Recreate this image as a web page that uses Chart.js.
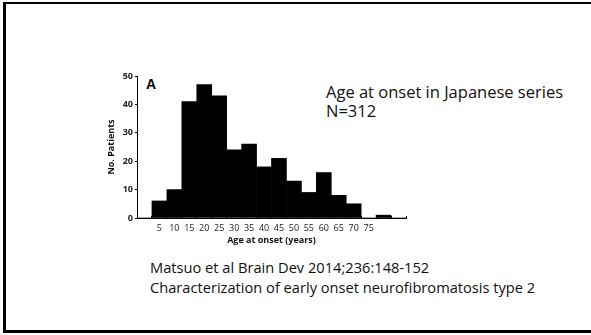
<!DOCTYPE html>
<html>
<head>
<meta charset="utf-8">
<script src="https://cdn.jsdelivr.net/npm/chart.js@4.4.1/dist/chart.umd.min.js"></script>
<style>
    body { margin: 0; width: 591px; height: 335px; background: #fff; position: relative; overflow: hidden; }
    #frame { position: absolute; left: 3px; top: 2px; width: 600px; height: 326px;
        border-top: 2px solid #000; border-left: 3px solid #000; border-bottom: 3px solid #000; }
    .note { position: absolute; font-family: "Open Sans", sans-serif; color: #111; white-space: nowrap; }
    #panel { position: absolute; left: 146px; top: 77px; font-family: "Liberation Sans", Arial, sans-serif;
        font-weight: bold; font-size: 14px; line-height: 14px; color: #000; }
    #wrap { position: absolute; left: 95px; top: 68px; width: 320px; height: 182px; }
</style>
</head>
<body>
<div id="frame"></div>
<div class="note" style="left:326px; top:82px; font-size:16.5px; line-height:19px;">Age at onset in Japanese series<br>N=312</div>
<div class="note" style="left:150px; top:257px; font-size:14.65px; line-height:20px;">Matsuo et al Brain Dev 2014;236:148-152<br>Characterization of early onset neurofibromatosis type 2</div>
<div id="panel">A</div>
<div id="wrap"><canvas id="histChart"></canvas></div>
<script>
// age bins of 5 years, label sits under each bin
const ageLabels = ['', '5', '10', '15', '20', '25', '30', '35', '40', '45', '50', '55', '60', '65', '70', '75', '', ''];
const patients = [0, 6, 10, 41, 47, 43, 24, 26, 18, 21, 13, 9, 16, 8, 5, 0, 1, 0];
const yMax = 50;
const yStep = 10;

document.addEventListener('DOMContentLoaded', function () {
    const ctx = document.getElementById('histChart').getContext('2d');
    new Chart(ctx, {
        type: 'bar',
        data: {
            labels: ageLabels,
            datasets: [{
                label: 'No. Patients',
                data: patients,
                backgroundColor: '#000',
                borderWidth: 0,
                barPercentage: 1,
                categoryPercentage: 1
            }]
        },
        options: {
            responsive: true,
            maintainAspectRatio: false,
            animation: false,
            layout: { padding: { left: 0, top: 8, right: 9, bottom: 0 } },
            plugins: {
                legend: { display: false },
                tooltip: { enabled: false }
            },
            scales: {
                x: {
                    grid: { drawOnChartArea: false, tickLength: -2, color: '#000' },
                    border: { color: '#000', width: 1 },
                    ticks: {
                        autoSkip: false, maxRotation: 0, padding: 7,
                        color: '#222', font: { family: 'Open Sans', size: 9 }
                    },
                    title: {
                        display: true, text: 'Age at onset (years)', color: '#111',
                        font: { family: 'Open Sans', size: 9, weight: 'bold' },
                        padding: { top: 0, bottom: 4 }
                    },
                    afterFit: function (scale) { scale.height = 32; }
                },
                y: {
                    min: 0,
                    max: yMax,
                    grid: { drawOnChartArea: false, tickLength: 2, color: '#000' },
                    border: { color: '#000', width: 1 },
                    ticks: {
                        stepSize: yStep, padding: 2,
                        color: '#222', font: { family: 'Open Sans', size: 9, weight: 'bold' }
                    },
                    title: {
                        display: true, text: 'No. Patients', color: '#111',
                        font: { family: 'Open Sans', size: 9, weight: 'bold' },
                        padding: { top: 11, bottom: 0 }
                    },
                    afterFit: function (scale) { scale.width = 42; }
                }
            }
        }
    });
});
</script>
</body>
</html>
